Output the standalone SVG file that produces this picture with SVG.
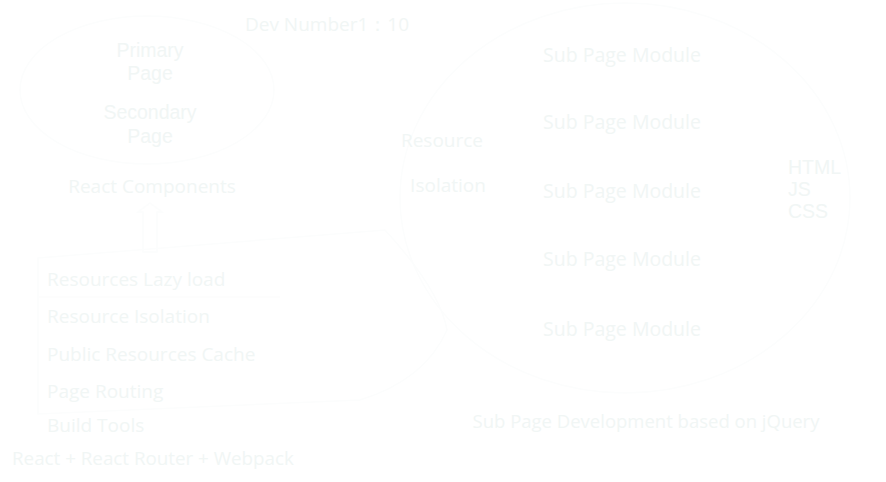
<svg xmlns="http://www.w3.org/2000/svg" width="886" height="482" viewBox="0 0 886 482">
<style>
text{font-family:"Open Sans","Liberation Sans",Arial,sans-serif;font-size:19px;fill:#f1f6f5}
.c{text-anchor:middle}
.m{font-size:19.5px}
.t{font-family:"Liberation Sans",Arial,sans-serif;font-size:19.5px}
.s{fill:none;stroke:#fcfdfd;stroke-width:1.5}
</style>
<rect width="886" height="482" fill="#ffffff"/>
<g id="connectors">
<path class="s" d="M150 203 L162 212 L157 212 L157 252 L143 252 L143 212 L138 212 Z"/>
</g>
<g id="dev-number"><text class="c" x="327" y="31">Dev Number1：10</text></g>
<g id="frontend-ellipse">
<ellipse class="s" cx="147" cy="90" rx="127" ry="74"/>
<text class="c t" x="150" y="57">Primary</text>
<text class="c t" x="150" y="80">Page</text>
<text class="c t" x="150" y="119">Secondary</text>
<text class="c t" x="150" y="143">Page</text>
</g>
<g id="react-components"><text class="c" x="152" y="193">React Components</text></g>
<g id="framework">
<path class="s" d="M38 258 L385 230 Q440 290 447 330 Q425 380 360 400 L38 414 Z"/>
<line class="s" x1="38" y1="297" x2="280" y2="297"/>
<text x="47" y="286">Resources Lazy load</text>
<text x="47" y="323">Resource Isolation</text>
<text x="47" y="361">Public Resources Cache</text>
<text x="47" y="398">Page Routing</text>
<text x="47" y="432">Build Tools</text>
</g>
<g id="stack-left"><text x="12" y="465" style="font-size:18.8px">React + React Router + Webpack</text></g>
<g id="subpages">
<ellipse class="s" cx="625" cy="198" rx="225" ry="195"/>
<text class="c" x="442" y="147">Resource</text>
<text class="c" x="448" y="192">Isolation</text>
<text class="c m" x="622" y="62">Sub Page Module</text>
<text class="c m" x="622" y="129">Sub Page Module</text>
<text class="c m" x="622" y="198">Sub Page Module</text>
<text class="c m" x="622" y="266">Sub Page Module</text>
<text class="c m" x="622" y="336">Sub Page Module</text>
<text class="t" x="788" y="174">HTML</text>
<text class="t" x="788" y="196">JS</text>
<text class="t" x="788" y="218">CSS</text>
</g>
<g id="stack-right"><text class="c" x="646" y="428" style="font-size:18.5px">Sub Page Development based on jQuery</text></g>
</svg>
